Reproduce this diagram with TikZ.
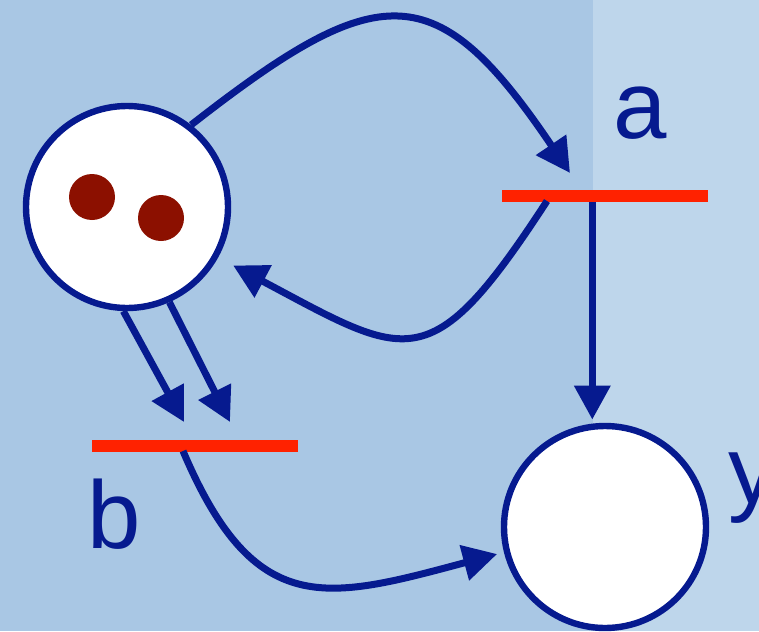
\documentclass[tikz,border=0pt]{standalone}
\usepackage{fontspec}
\setmainfont{Liberation Sans}
\usepackage{tikz}
\usetikzlibrary{positioning,arrows.meta}
\definecolor{bgdark}{RGB}{169,199,228}
\definecolor{bglight}{RGB}{190,214,235}
\definecolor{netblue}{RGB}{6,26,143}
\definecolor{netred}{RGB}{255,34,0}
\definecolor{tokred}{RGB}{140,16,0}
\tikzset{
  netarrow/.style={-{Triangle[length=17pt, width=17.5pt]}, line width=3.5pt, draw=netblue},
  place/.style={circle, draw=netblue, fill=white, line width=3.2pt, minimum size=101pt, inner sep=0pt},
  trans/.style={rectangle, fill=netred, minimum width=103pt, minimum height=6pt, inner sep=0pt},
  token/.style={circle, fill=tokred, minimum size=23pt, inner sep=0pt},
  netlabel/.style={text=netblue, inner sep=0pt, font=\fontsize{48}{50}\selectfont}
}
\begin{document}
\begin{tikzpicture}[x=0.5pt, y=-0.5pt]
  % background
  \fill[bgdark] (0,0) rectangle (593,631);
  \fill[bglight] (593,0) rectangle (759,631);
  \useasboundingbox (0,0) rectangle (759,631);

  % places and transitions
  \node[place] (px) at (127,207) {};
  \node[place] (py) at (605,527) {};
  \node[trans] (ta) at (605,196) {};
  \node[trans] (tb) at (195,446) {};
  \node[token] (k1) at (92,197) {};
  \node[token] (k2) at (161,218) {};

  \node[netlabel, anchor=base] (la) at (640,138) {a};
  \node[netlabel, anchor=base west] (lb) at (87,548) {b};
  \node[netlabel, anchor=base west] (ly) at (728,503) {y};

  % arc ends at the bars
  \coordinate (a-in) at (570,173);
  \coordinate (a-out) at (547,201);
  \coordinate (b-in1) at (184,422);
  \coordinate (b-in2) at (230,422);
  \coordinate (b-out) at (183,451);

  \draw[netarrow] (px.52) to[out=38, in=124, looseness=1.6] (a-in);
  \draw[netarrow, shorten >=8.5pt] (a-out) to[out=237, in=-28, looseness=1.65] (px.-29);
  \draw[netarrow] (px.268) -- (b-in1);
  \draw[netarrow] (px.-66) -- (b-in2);
  \draw[netarrow, shorten >=3.5pt] (b-out) to[out=-67, in=195, looseness=1.4] (py.194);
  \draw[netarrow, shorten >=2pt] (ta.south -| py.97) -- (py.97);
\end{tikzpicture}
\end{document}
